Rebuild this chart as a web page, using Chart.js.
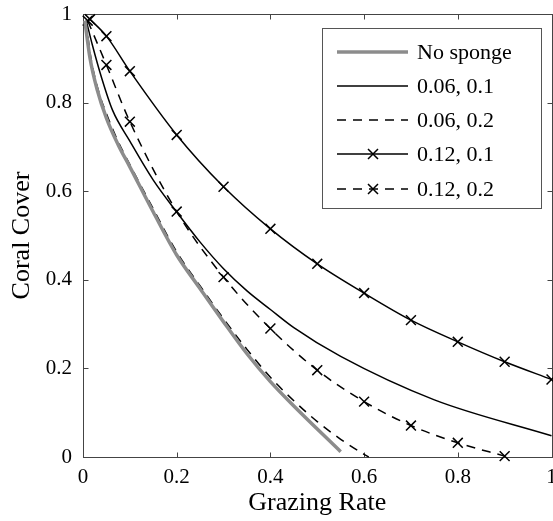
<!DOCTYPE html>
<html>
<head>
<meta charset="utf-8">
<script src="https://cdn.jsdelivr.net/npm/chart.js@4/dist/chart.umd.min.js"></script>
<style>
  html, body { margin: 0; padding: 0; background: #fff; overflow: hidden; }
  #wrap { width: 560px; height: 521px; }
</style>
</head>
<body>
<div id="wrap"><canvas id="chart" width="560" height="521"></canvas></div>
<script>
// values
const seriesNames = ['No sponge', '0.06, 0.1', '0.06, 0.2', '0.12, 0.1', '0.12, 0.2'];

const noSpongeX = [0.004, 0.015, 0.03, 0.05, 0.075, 0.1, 0.15, 0.2, 0.25, 0.3, 0.35, 0.4, 0.45, 0.55];
const noSpongeY = [0.985, 0.9, 0.83, 0.765, 0.705, 0.655, 0.553, 0.456, 0.38, 0.305, 0.233, 0.17, 0.115, 0.012];

const low01X = [0.007, 0.02, 0.04, 0.063, 0.1, 0.15, 0.2, 0.25, 0.3, 0.35, 0.4, 0.45, 0.55, 0.75, 1.0];
const low01Y = [0.985, 0.93, 0.855, 0.783, 0.713, 0.625, 0.553, 0.485, 0.425, 0.375, 0.333, 0.292, 0.227, 0.129, 0.048];

const low02X = [0.006, 0.017, 0.032, 0.05, 0.075, 0.1, 0.15, 0.2, 0.25, 0.3, 0.35, 0.4, 0.45, 0.5, 0.55, 0.6, 0.61];
const low02Y = [0.985, 0.9, 0.83, 0.775, 0.712, 0.66, 0.56, 0.463, 0.386, 0.312, 0.243, 0.18, 0.127, 0.08, 0.04, 0.006, 0];

const high01X = [0.015, 0.05, 0.1, 0.2, 0.3, 0.4, 0.5, 0.6, 0.7, 0.8, 0.9, 1.0];
const high01Y = [0.988, 0.95, 0.871, 0.727, 0.61, 0.515, 0.436, 0.37, 0.309, 0.26, 0.215, 0.175];

const high02X = [0.01, 0.05, 0.1, 0.2, 0.3, 0.4, 0.5, 0.6, 0.7, 0.8, 0.9];
const high02Y = [0.985, 0.885, 0.757, 0.554, 0.406, 0.29, 0.196, 0.125, 0.071, 0.032, 0.002];

const xTickLabels = ['0', '0.2', '0.4', '0.6', '0.8', '1'];
const yTickLabels = ['0', '0.2', '0.4', '0.6', '0.8', '1'];

const SERIF = "'Liberation Serif', 'Times New Roman', serif";
Chart.defaults.font.family = SERIF;
Chart.defaults.color = '#000';

function pts(xs, ys) {
  return xs.map((x, i) => ({ x: x, y: ys[i] }));
}

// fixed axis sizes, no extra room for overhanging labels
function fixSize(prop, size) {
  return s => {
    s[prop] = size;
    s.paddingTop = 0; s.paddingBottom = 0;
    s.paddingLeft = 0; s.paddingRight = 0;
  };
}

// box around plot with inward ticks on every side
const frame = {
  id: 'frame',
  beforeDatasetsDraw(chart) {
    const { ctx, chartArea: a, scales } = chart;
    const L = Math.round(a.left) + 0.5, R = Math.round(a.right) + 0.5;
    const T = Math.round(a.top) + 0.5, B = Math.round(a.bottom) + 0.5;
    ctx.save();
    ctx.strokeStyle = '#444';
    ctx.lineWidth = 1;
    ctx.strokeRect(L, T, R - L, B - T);
    ctx.beginPath();
    scales.x.ticks.forEach(t => {
      const px = Math.round(scales.x.getPixelForValue(t.value)) + 0.5;
      ctx.moveTo(px, B); ctx.lineTo(px, B - 5);
      ctx.moveTo(px, T); ctx.lineTo(px, T + 5);
    });
    scales.y.ticks.forEach(t => {
      const py = Math.round(scales.y.getPixelForValue(t.value)) + 0.5;
      ctx.moveTo(L, py); ctx.lineTo(L + 5, py);
      ctx.moveTo(R, py); ctx.lineTo(R - 5, py);
    });
    ctx.stroke();
    ctx.restore();
  }
};

// legend box in the upper right of the plot
const boxLegend = {
  id: 'boxLegend',
  afterDraw(chart) {
    const ctx = chart.ctx;
    ctx.save();
    ctx.fillStyle = '#fff';
    ctx.fillRect(322, 28, 219, 180);
    ctx.strokeStyle = '#555';
    ctx.lineWidth = 1;
    ctx.strokeRect(322.5, 28.5, 219, 180);
    chart.data.datasets.forEach((ds, i) => {
      const y = Math.round(51.5 + i * 34.3);
      ctx.strokeStyle = ds.borderColor;
      ctx.lineWidth = ds.borderWidth;
      ctx.setLineDash(ds.borderDash || []);
      ctx.beginPath();
      ctx.moveTo(337, y); ctx.lineTo(408, y);
      ctx.stroke();
      ctx.setLineDash([]);
      if (ds.pointRadius > 0) {
        const d = 5;
        ctx.beginPath();
        ctx.moveTo(373 - d, y - d); ctx.lineTo(373 + d, y + d);
        ctx.moveTo(373 - d, y + d); ctx.lineTo(373 + d, y - d);
        ctx.stroke();
      }
      ctx.fillStyle = '#000';
      ctx.font = '22px ' + SERIF;
      ctx.textBaseline = 'middle';
      ctx.textAlign = 'left';
      ctx.fillText(ds.label, 417, y + 1);
    });
    ctx.restore();
  }
};

const lineBase = {
  showLine: true,
  fill: false,
  clip: false,
  cubicInterpolationMode: 'monotone',
  pointStyle: 'crossRot',
  pointBorderColor: '#000',
  pointBorderWidth: 1.5,
  pointHoverRadius: 0
};

new Chart(document.getElementById('chart'), {
  type: 'scatter',
  data: {
    datasets: [
      Object.assign({}, lineBase, { label: seriesNames[0], data: pts(noSpongeX, noSpongeY),
        borderColor: '#8c8c8c', borderWidth: 3.5, pointRadius: 0 }),
      Object.assign({}, lineBase, { label: seriesNames[1], data: pts(low01X, low01Y),
        borderColor: '#000', borderWidth: 1.5, pointRadius: 0 }),
      Object.assign({}, lineBase, { label: seriesNames[2], data: pts(low02X, low02Y),
        borderColor: '#000', borderWidth: 1.5, borderDash: [9, 7], pointRadius: 0 }),
      Object.assign({}, lineBase, { label: seriesNames[3], data: pts(high01X, high01Y),
        borderColor: '#000', borderWidth: 1.5, pointRadius: 7 }),
      Object.assign({}, lineBase, { label: seriesNames[4], data: pts(high02X, high02Y),
        borderColor: '#000', borderWidth: 1.5, borderDash: [9, 7], pointRadius: 7 })
    ]
  },
  options: {
    responsive: false,
    animation: false,
    events: [],
    layout: { padding: { top: 14, right: 4, left: 0, bottom: 0 } },
    plugins: { legend: { display: false }, tooltip: { enabled: false } },
    scales: {
      x: {
        type: 'linear', min: 0, max: 1,
        afterFit: fixSize('height', 64),
        grid: { display: false, drawTicks: false },
        border: { display: false },
        ticks: { stepSize: 0.2, autoSkip: false, maxRotation: 0, padding: 8,
          font: { size: 21 }, callback: (v, i) => xTickLabels[i] },
        title: { display: true, text: 'Grazing Rate', font: { size: 26 }, padding: { top: 0, bottom: 2 } }
      },
      y: {
        type: 'linear', min: 0, max: 1,
        afterFit: fixSize('width', 83),
        grid: { display: false, drawTicks: false },
        border: { display: false },
        ticks: { stepSize: 0.2, autoSkip: false, padding: 11,
          font: { size: 21 }, callback: (v, i) => yTickLabels[i] },
        title: { display: true, text: 'Coral Cover', font: { size: 26 }, padding: { top: 7, bottom: 0 } }
      }
    }
  },
  plugins: [frame, boxLegend]
});
</script>
</body>
</html>
